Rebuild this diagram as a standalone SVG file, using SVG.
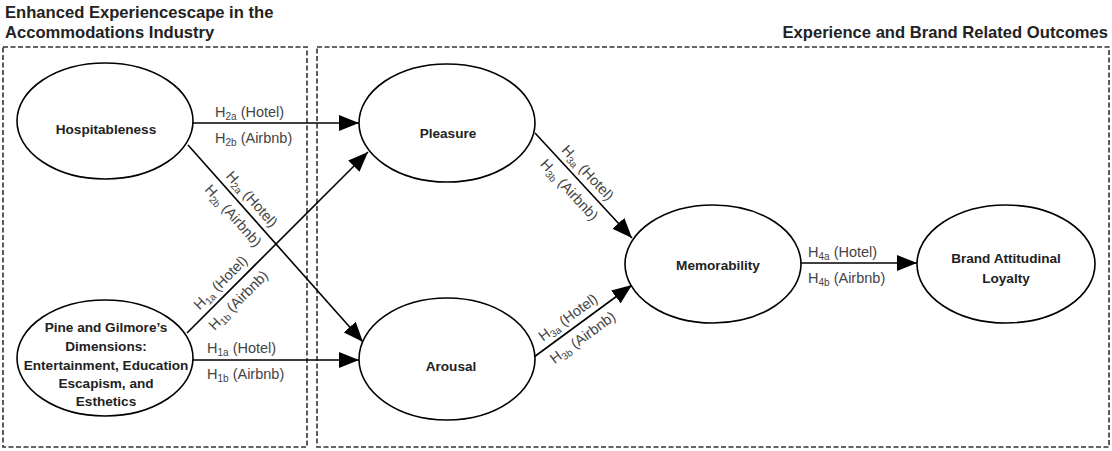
<svg xmlns="http://www.w3.org/2000/svg" width="1112" height="451" viewBox="0 0 1112 451">
<defs>
<style>
.box{fill:none;stroke:#333;stroke-width:1.6;stroke-dasharray:5 2.5}
.title{font-family:"Liberation Sans",Arial,sans-serif;font-weight:bold;font-size:16.6px;fill:#222}
.node{fill:#fff;stroke:#000;stroke-width:1.6}
.nt{font-family:"Liberation Sans",Arial,sans-serif;font-weight:bold;font-size:13.6px;fill:#222;text-anchor:middle}
.edge{stroke:#000;stroke-width:1.6;fill:none;marker-end:url(#ah)}
.lb{font-family:"Liberation Sans",Arial,sans-serif;font-size:14.5px;fill:#444}
.lbm{font-family:"Liberation Sans",Arial,sans-serif;font-size:14.5px;fill:#444;text-anchor:middle}
.sub{font-size:10px}
</style>
<marker id="ah" viewBox="0 0 20 16" refX="20" refY="8" markerWidth="20" markerHeight="16" markerUnits="userSpaceOnUse" orient="auto">
<path d="M0,0 L20,8 L0,16 z" fill="#000"/>
</marker>
</defs>

<g id="frames">
<rect class="box" x="3" y="47" width="304" height="400"/>
<rect class="box" x="317" y="47" width="792" height="400"/>
<text class="title" x="5" y="18">Enhanced Experiencescape in the</text>
<text class="title" x="5" y="38">Accommodations Industry</text>
<text class="title" x="1108" y="38" text-anchor="end">Experience and Brand Related Outcomes</text>
</g>

<g id="connectors">
<line class="edge" x1="193" y1="123" x2="359" y2="123"/>
<line class="edge" x1="188" y1="145" x2="363" y2="342"/>
<line class="edge" x1="187" y1="333" x2="368" y2="152"/>
<line class="edge" x1="193" y1="360" x2="359" y2="360"/>
<line class="edge" x1="535" y1="133" x2="632" y2="238"/>
<line class="edge" x1="534" y1="357" x2="632" y2="285"/>
<line class="edge" x1="801" y1="263" x2="917" y2="263"/>
</g>

<g id="edge-labels">
<text class="lb" x="215" y="117">H<tspan class="sub" dy="3">2a</tspan><tspan dy="-3"> (Hotel)</tspan></text>
<text class="lb" x="215" y="143">H<tspan class="sub" dy="3">2b</tspan><tspan dy="-3"> (Airbnb)</tspan></text>
<text class="lb" x="207" y="353">H<tspan class="sub" dy="3">1a</tspan><tspan dy="-3"> (Hotel)</tspan></text>
<text class="lb" x="207" y="379">H<tspan class="sub" dy="3">1b</tspan><tspan dy="-3"> (Airbnb)</tspan></text>
<text class="lb" x="808" y="257">H<tspan class="sub" dy="3">4a</tspan><tspan dy="-3"> (Hotel)</tspan></text>
<text class="lb" x="808" y="283">H<tspan class="sub" dy="3">4b</tspan><tspan dy="-3"> (Airbnb)</tspan></text>
<g transform="translate(243,207) rotate(48.4)">
<text class="lbm" x="0" y="-7">H<tspan class="sub" dy="3">2a</tspan><tspan dy="-3"> (Hotel)</tspan></text>
<text class="lbm" x="0" y="18">H<tspan class="sub" dy="3">2b</tspan><tspan dy="-3"> (Airbnb)</tspan></text>
</g>
<g transform="translate(229,291) rotate(-45)">
<text class="lbm" x="0" y="-7">H<tspan class="sub" dy="3">1a</tspan><tspan dy="-3"> (Hotel)</tspan></text>
<text class="lbm" x="0" y="18">H<tspan class="sub" dy="3">1b</tspan><tspan dy="-3"> (Airbnb)</tspan></text>
</g>
<g transform="translate(579,181) rotate(47.3)">
<text class="lbm" x="0" y="-7">H<tspan class="sub" dy="3">3a</tspan><tspan dy="-3"> (Hotel)</tspan></text>
<text class="lbm" x="0" y="18">H<tspan class="sub" dy="3">3b</tspan><tspan dy="-3"> (Airbnb)</tspan></text>
</g>
<g transform="translate(575,327) rotate(-36.3)">
<text class="lbm" x="0" y="-7">H<tspan class="sub" dy="3">3a</tspan><tspan dy="-3"> (Hotel)</tspan></text>
<text class="lbm" x="0" y="18">H<tspan class="sub" dy="3">3b</tspan><tspan dy="-3"> (Airbnb)</tspan></text>
</g>
</g>

<g id="node-hospitableness">
<ellipse class="node" cx="105" cy="121" rx="88" ry="58"/>
<text class="nt" x="106" y="134">Hospitableness</text>
</g>
<g id="node-pine-gilmore">
<ellipse class="node" cx="105" cy="358" rx="88" ry="58"/>
<text class="nt" x="106" y="332">Pine and Gilmore’s</text>
<text class="nt" x="106" y="351">Dimensions:</text>
<text class="nt" x="106" y="370">Entertainment, Education</text>
<text class="nt" x="106" y="388">Escapism, and</text>
<text class="nt" x="106" y="406">Esthetics</text>
</g>
<g id="node-pleasure">
<ellipse class="node" cx="447" cy="123" rx="88" ry="59"/>
<text class="nt" x="448" y="138">Pleasure</text>
</g>
<g id="node-arousal">
<ellipse class="node" cx="447" cy="359" rx="88" ry="61"/>
<text class="nt" x="451" y="371">Arousal</text>
</g>
<g id="node-memorability">
<ellipse class="node" cx="713" cy="264" rx="88" ry="59"/>
<text class="nt" x="718" y="270">Memorability</text>
</g>
<g id="node-brand">
<ellipse class="node" cx="1006" cy="264" rx="89" ry="59"/>
<text class="nt" x="1006" y="263">Brand Attitudinal</text>
<text class="nt" x="1006" y="283">Loyalty</text>
</g>
</svg>
